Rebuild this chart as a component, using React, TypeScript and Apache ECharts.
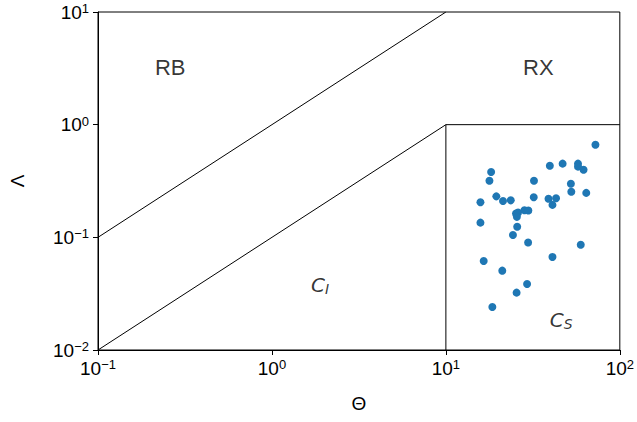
import React, { useEffect, useRef } from "react";
import * as echarts from "echarts";

const thetaValues = [72.4, 39.6, 46.9, 57.5, 57.5, 61.9, 18.2, 17.8, 32.1, 52.3, 52.6, 64.1, 19.5, 21.3, 23.6, 32.0, 38.9, 43.0, 41.0, 15.8, 15.8, 25.3, 26.0, 25.6, 28.3, 29.8, 25.7, 24.3, 29.7, 59.6, 16.5, 41.0, 21.1, 29.3, 25.5, 18.5];
const lambdaValues = [0.664, 0.432, 0.451, 0.451, 0.424, 0.398, 0.380, 0.318, 0.318, 0.299, 0.254, 0.248, 0.231, 0.210, 0.213, 0.227, 0.220, 0.222, 0.194, 0.205, 0.135, 0.163, 0.166, 0.152, 0.174, 0.173, 0.124, 0.105, 0.090, 0.086, 0.0617, 0.0669, 0.0506, 0.0385, 0.0323, 0.0241];

// Boundary lines of the regime diagram
const diagonalUpper = [[0.1, 0.1], [10, 10]];
const diagonalLower = [[0.1, 0.01], [10, 1], [100, 1]];
const verticalBoundary = [[10, 1], [10, 0.01]];

// Region annotations: [theta, lambda, label]
const regionLabels: [number, number, string][] = [
  [0.26, 3.2, "{n|RB}"],
  [34, 3.2, "{n|RX}"],
  [1.89, 0.0378, "{c|C}{s|I}"],
  [46, 0.0185, "{c|C}{s|S}"],
];

const FONT = "Liberation Sans, Arial, sans-serif";

function supLabel(v: number) {
  const e = Math.round(Math.log10(v));
  const s = e < 0 ? "\u2212" + Math.abs(e) : String(e);
  return "{b|10}{p|" + s + "}";
}

const tickRich = {
  b: { fontSize: 19, fontFamily: FONT, color: "#000", lineHeight: 20 },
  p: { fontSize: 13, fontFamily: FONT, color: "#000", padding: [0, 0, 7, 0], lineHeight: 20 },
};

export default function App() {
  const ref = useRef<HTMLDivElement>(null);
  useEffect(() => {
    const chart = echarts.init(ref.current!, undefined, { renderer: "svg" });
    const lineStyle = { color: "#000", width: 1 };
    chart.setOption({
      animation: false,
      backgroundColor: "#fff",
      grid: {
        left: 93,
        right: 15,
        top: 12,
        bottom: 72,
        show: true,
        borderColor: "#000",
        borderWidth: 1,
        backgroundColor: "transparent",
      },
      xAxis: {
        type: "log",
        logBase: 10,
        min: 0.1,
        max: 100,
        name: "\u0398",
        nameLocation: "middle",
        nameGap: 44,
        nameTextStyle: { fontSize: 19, fontFamily: FONT, color: "#000" },
        axisLine: { show: true, lineStyle: { color: "#000", width: 1 } },
        axisTick: { show: true, inside: false, length: 5, lineStyle: { color: "#000" } },
        minorTick: { show: false },
        splitLine: { show: false },
        axisLabel: { color: "#000", formatter: supLabel, rich: tickRich, margin: 8 },
      },
      yAxis: {
        type: "log",
        logBase: 10,
        min: 0.01,
        max: 10,
        name: "\u039B",
        nameLocation: "middle",
        nameGap: 71,
        nameRotate: 90,
        nameTextStyle: { fontSize: 19, fontFamily: FONT, color: "#000" },
        axisLine: { show: true, lineStyle: { color: "#000", width: 1 } },
        axisTick: { show: true, inside: false, length: 5, lineStyle: { color: "#000" } },
        minorTick: { show: false },
        splitLine: { show: false },
        axisLabel: { color: "#000", formatter: supLabel, rich: tickRich, margin: 9 },
      },
      series: [
        { type: "line", data: diagonalUpper, symbol: "none", lineStyle, silent: true },
        { type: "line", data: diagonalLower, symbol: "none", lineStyle, silent: true },
        { type: "line", data: verticalBoundary, symbol: "none", lineStyle, silent: true },
        {
          type: "scatter",
          data: thetaValues.map((t, i) => [t, lambdaValues[i]]),
          symbolSize: 8,
          itemStyle: { color: "#1f77b4", opacity: 1 },
        },
        {
          type: "scatter",
          symbolSize: 0,
          silent: true,
          data: regionLabels.map(([x, y, n]) => ({ value: [x, y], name: n })),
          label: {
            show: true,
            position: "inside",
            color: "#000",
            textBorderWidth: 0,
            formatter: (p: any) => p.name,
            rich: {
              n: { fontSize: 22, fontFamily: FONT, color: "#000", textBorderWidth: 0 },
              c: { fontSize: 20, fontFamily: "DejaVu Sans, sans-serif", fontStyle: "italic", color: "#000", textBorderWidth: 0, lineHeight: 24 },
              s: { fontSize: 14, fontFamily: "DejaVu Sans, sans-serif", fontStyle: "italic", color: "#000", textBorderWidth: 0, padding: [9, 0, 0, 0], lineHeight: 24 },
            },
          },
        },
      ],
    });
    return () => chart.dispose();
  }, []);
  return (
    <div
      ref={ref}
      style={{ position: "fixed", left: 0, top: 0, width: 637, height: 422, overflow: "visible" }}
    />
  );
}
